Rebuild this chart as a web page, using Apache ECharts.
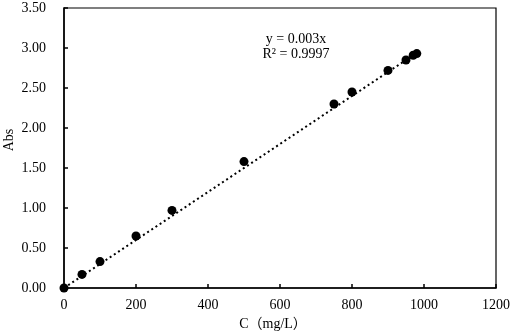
<!DOCTYPE html>
<html>
<head>
<meta charset="utf-8">
<script src="https://cdn.jsdelivr.net/npm/echarts@6/dist/echarts.min.js"></script>
<style>
  html, body { margin: 0; padding: 0; background: #fff; }
  #chart { width: 512px; height: 332px; }
</style>
</head>
<body>
<div id="chart"></div>
<script>
// 标定曲线数据
const concValues = [0, 50, 100, 200, 300, 500, 750, 800, 900, 950, 970, 980]
const absValues = [0, 0.17, 0.33, 0.65, 0.97, 1.58, 2.30, 2.45, 2.72, 2.85, 2.91, 2.93]
const trendX = [0, 980]
const trendY = [0, 2.94]
const fitLines = ['y = 0.003x', 'R² = 0.9997']

const font = '"Liberation Serif", "Times New Roman", "Noto Sans CJK SC", serif'

const points = concValues.map((c, i) => [c, absValues[i]])
const trend = trendX.map((c, i) => [c, trendY[i]])

const axisCommon = {
  axisLine: { show: true, onZero: false, lineStyle: { color: '#000', width: 1.5 } },
  axisTick: { show: true, inside: true, length: 4, lineStyle: { color: '#000', width: 1.5 } },
  splitLine: { show: false },
  axisLabel: { color: '#000', fontFamily: font, fontSize: 14 },
  nameTextStyle: { color: '#000', fontFamily: font, fontSize: 14 },
  nameLocation: 'middle'
}

const myChart = echarts.init(document.getElementById('chart'), null, { renderer: 'canvas' })
myChart.setOption({
  animation: false,
  backgroundColor: '#fff',
  grid: {
    left: 64,
    right: 16,
    top: 8,
    bottom: 44,
    containLabel: false,
    outerBoundsMode: 'none',
    show: true,
    borderColor: '#000',
    borderWidth: 1.2
  },
  xAxis: Object.assign({}, axisCommon, {
    type: 'value',
    min: 0,
    max: 1200,
    interval: 200,
    name: 'C（mg/L）',
    nameGap: 19,
    nameTextStyle: Object.assign({}, axisCommon.nameTextStyle, { padding: [0, 14, 0, 0] }),
    axisLabel: Object.assign({}, axisCommon.axisLabel, {
      margin: 10,
      formatter: v => String(v)
    })
  }),
  yAxis: Object.assign({}, axisCommon, {
    type: 'value',
    min: 0,
    max: 3.5,
    interval: 0.5,
    axisLabel: Object.assign({}, axisCommon.axisLabel, {
      margin: 18,
      formatter: v => v.toFixed(2)
    })
  }),
  graphic: [
    {
      // y轴标题
      type: 'text',
      x: 9,
      y: 140,
      rotation: Math.PI / 2,
      style: {
        text: 'Abs',
        font: '14px ' + font,
        fill: '#000',
        align: 'center',
        verticalAlign: 'middle'
      }
    },
    {
      type: 'text',
      x: 296,
      y: 32,
      style: {
        text: fitLines.join('\n'),
        font: '14px ' + font,
        fill: '#000',
        align: 'center',
        lineHeight: 15
      }
    }
  ],
  series: [
    {
      type: 'line',
      data: trend,
      symbol: 'none',
      lineStyle: { color: '#000', width: 2, type: [2, 3] },
      z: 2
    },
    {
      type: 'scatter',
      data: points,
      symbol: 'circle',
      symbolSize: 9,
      itemStyle: { color: '#000', opacity: 1 },
      z: 3
    }
  ]
})
</script>
</body>
</html>
